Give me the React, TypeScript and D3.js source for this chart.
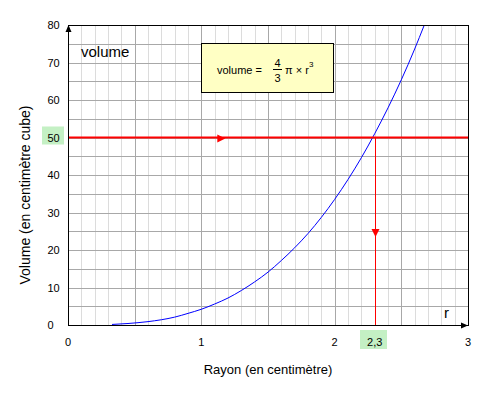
import React, { useEffect } from 'react';
import * as d3 from 'd3';

// rayon (cm) et volume (cm3)
const rayons = [0.33, 0.45, 0.6, 0.7, 0.8, 0.9, 1.0, 1.1, 1.2, 1.3, 1.4, 1.5, 1.6, 1.7, 1.8, 1.9, 2.0, 2.1, 2.2, 2.3, 2.4, 2.5, 2.6, 2.67];
const volumes = [0.15, 0.4, 0.9, 1.4, 2.1, 3.1, 4.2, 5.6, 7.2, 9.2, 11.5, 14.1, 17.2, 20.6, 24.4, 28.7, 33.5, 38.8, 44.6, 51.0, 57.9, 65.4, 73.6, 79.8];

const xTicks = [0, 1, 2, 3];
const yTicks = [0, 10, 20, 30, 40, 50, 60, 70, 80];
const rCible = 2.3;
const vCible = 50;
const rFleche = 1.18; // pointe de la flèche horizontale
const vFleche = 23.5; // pointe de la flèche verticale

const W = 494;
const H = 397;
const FONT = '"Liberation Sans", Arial, sans-serif';

export default function App() {
  useEffect(() => {
    document.body.style.margin = '0';
  }, []);

  const x = d3.scaleLinear().domain([0, 3]).range([68, 468]);
  const y = d3.scaleLinear().domain([0, 80]).range([325, 25]);

  const minorX = d3.range(0, 31).map(i => i / 10).filter(v => Math.round(v * 10) % 5 !== 0);
  const majorX = d3.range(0, 7).map(i => i / 2);
  const gridY = d3.range(0, 17).map(i => i * 5);

  const pts: [number, number][] = rayons.map((r, i) => [r, volumes[i]]);
  const line = d3.line<[number, number]>()
    .x(d => x(d[0]))
    .y(d => y(d[1]))
    .curve(d3.curveMonotoneX);

  const px = (v: number) => Math.round(x(v)) + 0.5;
  const py = (v: number) => Math.round(y(v)) + 0.5;

  const xa = x(rFleche);
  const ya = py(vCible);
  const xv = px(rCible);
  const yv = y(vFleche);

  return (
    <svg width={W} height={H} style={{ position: 'absolute', left: 0, top: 0, background: '#fff' }} fontFamily={FONT}>
      {/* grille */}
      <g shapeRendering="crispEdges">
        {minorX.map(v => (
          <line key={'mx' + v} x1={px(v)} x2={px(v)} y1={y(80)} y2={y(0)} stroke="#dcdcdc" />
        ))}
        {gridY.map(v => (
          <line key={'gy' + v} x1={x(0)} x2={x(3)} y1={py(v)} y2={py(v)} stroke="#a8a8a8" />
        ))}
        {majorX.map(v => (
          <line key={'Mx' + v} x1={px(v)} x2={px(v)} y1={y(80)} y2={y(0)} stroke="#a8a8a8" />
        ))}
      </g>

      {/* courbe */}
      <path d={line(pts) || ''} fill="none" stroke="#0000ff" strokeWidth={1} />

      {/* lecture graphique */}
      <line x1={x(0)} x2={x(3)} y1={y(vCible)} y2={y(vCible)} stroke="#ff0000" strokeWidth={2} />
      <line x1={xv} x2={xv} y1={y(vCible)} y2={y(0)} stroke="#ff0000" strokeWidth={1} shapeRendering="crispEdges" />
      <path d={`M${xa},${ya} L${xa - 8},${ya - 4} L${xa - 8},${ya + 4} Z`} fill="#ff0000" />
      <path d={`M${xv},${yv} L${xv - 4},${yv - 8} L${xv + 4},${yv - 8} Z`} fill="#ff0000" />

      {/* cadre */}
      <rect x={px(0)} y={py(80)} width={px(3) - px(0)} height={py(0) - py(80)} fill="none" stroke="#000" shapeRendering="crispEdges" />
      <path d={`M${px(0)},${y(80)} L${px(0) - 3},${y(80) + 7} L${px(0) + 3},${y(80) + 7} Z`} fill="#000" />
      <path d={`M${x(3)},${py(0)} L${x(3) - 7},${py(0) - 3} L${x(3) - 7},${py(0) + 3} Z`} fill="#000" />

      {/* graduations */}
      {yTicks.map(v => (
        <g key={'yt' + v}>
          {v === vCible && <rect x={42} y={y(v) - 11} width={22} height={18} fill="#c4f0c4" />}
          <text x={47.5} y={y(v) + 4} fontSize={11} fill="#000">{v}</text>
        </g>
      ))}
      {xTicks.map(v => (
        <text key={'xt' + v} x={x(v)} y={346} fontSize={11} textAnchor="middle" fill="#000">{v}</text>
      ))}
      <rect x={360} y={330} width={27} height={19} fill="#c4f0c4" />
      <text x={x(rCible)} y={346} fontSize={11} textAnchor="middle" fill="#000">2,3</text>

      {/* titres */}
      <text x={81} y={57} fontSize={15} fill="#000">volume</text>
      <text x={444} y={318} fontSize={15} fill="#000">r</text>
      <text x={268} y={374} fontSize={13} textAnchor="middle" fill="#000">Rayon (en centimètre)</text>
      <text transform="translate(30,195) rotate(-90)" fontSize={14} textAnchor="middle" fill="#000">Volume (en centimètre cube)</text>

      {/* formule */}
      <rect x={201.5} y={43.5} width={132} height={49} fill="#ffffc4" stroke="#000" shapeRendering="crispEdges" />
      <g fontSize={11} fill="#000">
        <text x={217} y={74}>volume =</text>
        <text x={277.5} y={66.5} textAnchor="middle">4</text>
        <line x1={273} x2={282} y1={69.5} y2={69.5} stroke="#000" />
        <text x={277.5} y={81.5} textAnchor="middle">3</text>
        <text x={285} y={74}>π × r</text>
        <text x={309} y={67} fontSize={8}>3</text>
      </g>
    </svg>
  );
}
